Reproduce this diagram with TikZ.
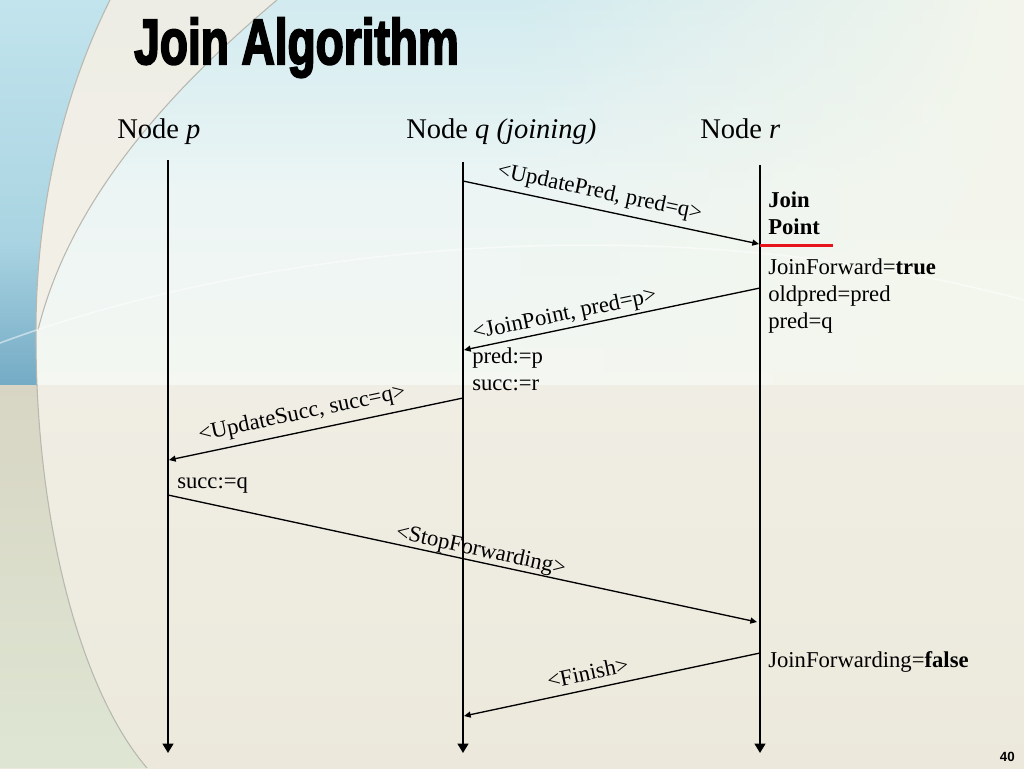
\documentclass[tikz,border=0pt]{standalone}
\usepackage{graphicx}
\usepackage{fontspec}
\setmainfont{Liberation Serif}
\newfontfamily\titlefont[BoldFeatures={FakeBold=3.5}]{Liberation Sans}
\newfontfamily\numfont{Liberation Sans}
\usetikzlibrary{arrows.meta,fadings}
\definecolor{bgtop}{HTML}{D2EBF0}
\definecolor{bgmidA}{HTML}{ECF5F4}
\definecolor{bgmid}{HTML}{F4F7F2}
\definecolor{bgpale}{HTML}{F4F6EC}
\definecolor{bgcreamA}{HTML}{F0EDE4}
\definecolor{bgcreamB}{HTML}{ECE9DC}
\definecolor{bluetop}{HTML}{C2E4ED}
\definecolor{bluemid}{HTML}{AAD4E2}
\definecolor{bluebot}{HTML}{74ABC5}
\definecolor{greyA}{HTML}{D8D5C4}
\definecolor{greyB}{HTML}{DEE6D3}
\definecolor{band}{HTML}{F3EEE4}
\definecolor{arcline}{HTML}{B8B8B0}
\definecolor{jpred}{HTML}{E8141C}
\tikzfading[name=opaqueright, left color=transparent!100, right color=transparent!0]
\begin{document}
\begin{tikzpicture}[x=0.75pt,y=-0.75pt,
  lifeline/.style={line width=1.5pt, -{Triangle[length=7pt,width=8pt]}},
  msg/.style={line width=1pt, -{Triangle[length=5pt,width=4.5pt]}},
  mlab/.style={font=\fontsize{17}{20}\selectfont, sloped, inner sep=2pt},
  lbl/.style={font=\fontsize{17}{20}\selectfont, inner sep=0pt, anchor=base west},
  hdr/.style={font=\fontsize{21.4}{25}\selectfont, inner sep=0pt, anchor=base west}]
\useasboundingbox (0,0) rectangle (1024,768);
% ---------- background ----------
\shade[top color=bgtop, bottom color=bgmidA] (0,0) rectangle (1024,190);
\shade[top color=bgmidA, bottom color=bgmid] (0,190) rectangle (1024,385);
\fill[bgpale, path fading=opaqueright] (520,0) rectangle (1024,385);
\shade[top color=bgcreamA, bottom color=bgcreamB] (0,385) rectangle (1024,768);
\begin{scope}
  \clip (0,0) -- (110,0) .. controls (55,110) and (36,230) .. (36,330)
        .. controls (35,520) and (80,690) .. (147,768) -- (0,768) -- cycle;
  \shade[top color=bluetop, bottom color=bluemid] (0,0) rectangle (160,240);
  \shade[top color=bluemid, bottom color=bluebot] (0,240) rectangle (160,385);
  \shade[top color=greyA, bottom color=greyB] (0,385) rectangle (160,768);
\end{scope}
\fill[band, opacity=0.85] (110,0) .. controls (55,110) and (36,230) .. (36,330)
      -- (38,330) .. controls (70,200) and (170,90) .. (277,0) -- cycle;
\draw[arcline, line width=0.8pt] (110,0) .. controls (55,110) and (36,230) .. (36,330)
        .. controls (35,520) and (80,690) .. (147,768);
\draw[arcline, line width=0.8pt] (277,0) .. controls (170,90) and (70,200) .. (38,330);
\draw[white, opacity=0.5, line width=1.2pt] (0,343) .. controls (250,250) and (650,200) .. (1024,300);
% ---------- title ----------
\node[anchor=base west, inner sep=0pt] (title) at (134,64)
  {\scalebox{0.75}[1.04]{\fontsize{46}{50}\titlefont\bfseries Join Algorithm}};
% ---------- headers ----------
\node[hdr] (hp) at (117,138) {Node \textit{p}};
\node[hdr] (hq) at (406,138) {Node \textit{q (joining)}};
\node[hdr] (hr) at (700,138) {Node \textit{r}};
% ---------- lifelines ----------
\coordinate (pT) at (168,160); \coordinate (pB) at (168,753);
\coordinate (qT) at (463,162); \coordinate (qB) at (463,753);
\coordinate (rT) at (760,165); \coordinate (rB) at (760,753);
\draw[lifeline] (pT) -- (pB);
\draw[lifeline] (qT) -- (qB);
\draw[lifeline] (rT) -- (rB);
% ---------- messages ----------
\coordinate (m1s) at (463,181); \coordinate (m1e) at (759,244);
\coordinate (m2s) at (760,288); \coordinate (m2e) at (464,350);
\coordinate (m3s) at (463,398); \coordinate (m3e) at (169,460);
\coordinate (m4s) at (168,495); \coordinate (m4e) at (757,622);
\coordinate (m5s) at (760,653); \coordinate (m5e) at (464,716);
\draw[msg] (m1s) -- node[mlab, pos=0.45, above=2.5pt] (l1) {<UpdatePred, pred=q>} (m1e);
\draw[msg] (m2s) -- node[mlab, pos=0.65, above=0pt] (l2) {<JoinPoint, pred=p>} (m2e);
\draw[msg] (m3s) -- node[mlab, pos=0.535, above=3pt] (l3) {<UpdateSucc, succ=q>} (m3e);
\draw[msg] (m4s) -- node[mlab, pos=0.527, above=-2pt] (l4) {<StopForwarding>} (m4e);
\draw[msg] (m5s) -- node[mlab, pos=0.57, above=4pt] (l5) {<Finish>} (m5e);
% ---------- join point ----------
\coordinate (jpA) at (760,245); \coordinate (jpB) at (833,245);
\draw[jpred, line width=2.25pt] (jpA) -- (jpB);
\node[lbl, font=\fontsize{17}{20}\selectfont\bfseries] (jp1) at (768,207) {Join};
\node[lbl, font=\fontsize{17}{20}\selectfont\bfseries] (jp2) at (768,234) {Point};
% ---------- state texts ----------
\node[lbl] (r1) at (768,274) {JoinForward=\textbf{true}};
\node[lbl] (r2) at (768,301) {oldpred=pred};
\node[lbl] (r3) at (768,328) {pred=q};
\node[lbl] (q1) at (472,363) {pred:=p};
\node[lbl] (q2) at (472,390) {succ:=r};
\node[lbl] (p1) at (177,488) {succ:=q};
\node[lbl] (r4) at (768,667) {JoinForwarding=\textbf{false}};
% ---------- page number ----------
\node[anchor=base east, inner sep=0pt, font=\numfont\fontsize{10}{12}\selectfont\bfseries] (num) at (1015,761) {40};
\end{tikzpicture}
\end{document}
